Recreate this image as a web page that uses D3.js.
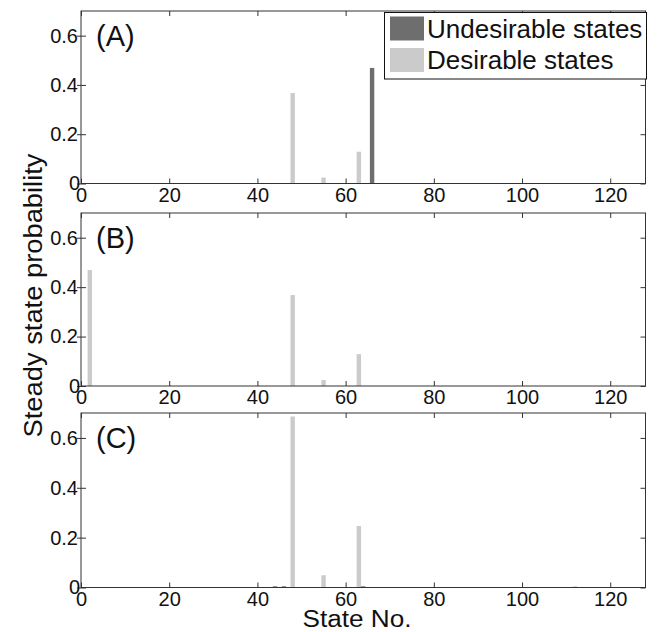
<!DOCTYPE html>
<html>
<head>
<meta charset="utf-8">
<script src="https://cdn.jsdelivr.net/npm/d3@7"></script>
<style>
  body { margin: 0; background: #fff; }
  svg text { font-family: "Liberation Sans", Arial, Helvetica, sans-serif; fill: #111; }
</style>
</head>
<body>
<svg id="chart" width="657" height="632"></svg>
<script>
// steady state probabilities, only the non-zero states are listed
var panelNames = ['(A)', '(B)', '(C)'];

var desStatesA = [48, 55, 63];
var desValsA   = [0.367, 0.024, 0.129];
var undStatesA = [66];
var undValsA   = [0.469];

var desStatesB = [2, 48, 55, 63];
var desValsB   = [0.469, 0.368, 0.024, 0.129];
var undStatesB = [];
var undValsB   = [];

var desStatesC = [48, 55, 63, 112];
var desValsC   = [0.686, 0.049, 0.247, 0.004];
var undStatesC = [44, 46, 64];
var undValsC   = [0.004, 0.004, 0.004];

var xTicks = [0, 20, 40, 60, 80, 100, 120];
var yTicks = [0, 0.2, 0.4, 0.6];
var legendLabels = ['Undesirable states', 'Desirable states'];

var darkCol = '#6e6e6e';
var lightCol = '#cbcbcb';
var axisCol = '#333';

var svg = d3.select('#chart');

// panel boxes (top, bottom) in px
var boxes = [[11, 183.5], [213, 386], [413, 587.5]];
var left = 81, right = 645.5;

var x = d3.scaleLinear().domain([0, 128]).range([left, right]);
var barW = x(1) - x(0);

var zip = function(s, v){
  return s.map(function(d, i){ return {state: d, p: v[i]}; });
};

var panels = [
  {name: panelNames[0], des: zip(desStatesA, desValsA), und: zip(undStatesA, undValsA)},
  {name: panelNames[1], des: zip(desStatesB, desValsB), und: zip(undStatesB, undValsB)},
  {name: panelNames[2], des: zip(desStatesC, desValsC), und: zip(undStatesC, undValsC)}
];

panels.forEach(function(pn, i){
  var top = boxes[i][0], bot = boxes[i][1];
  var y = d3.scaleLinear().domain([0, 0.7]).range([bot, top]);
  var g = svg.append('g');

  //bars
  var drawBars = function(list, col){
    g.selectAll(null)
      .data(list)
      .enter()
      .append('rect')
        .attr('x', function(d){ return x(d.state) - barW / 2; })
        .attr('width', barW)
        .attr('y', function(d){ return Math.min(y(d.p), bot - 1.2); })
        .attr('height', function(d){ return Math.max(bot - y(d.p), 1.2); })
        .attr('fill', col);
  };
  drawBars(pn.des, lightCol);
  drawBars(pn.und, darkCol);

  //frame
  g.append('rect')
    .attr('x', left).attr('y', top)
    .attr('width', right - left).attr('height', bot - top)
    .attr('fill', 'none').attr('stroke', axisCol).attr('stroke-width', 1);

  //axes
  var bottomAx = g.append('g')
    .attr('transform', 'translate(0,' + bot + ')')
    .call(d3.axisBottom(x).tickValues(xTicks).tickSizeInner(-5).tickSizeOuter(0).tickPadding(4)
      .tickFormat(d3.format('d')));
  var topAx = g.append('g')
    .attr('transform', 'translate(0,' + top + ')')
    .call(d3.axisTop(x).tickValues(xTicks).tickSizeInner(-5).tickSizeOuter(0).tickFormat(''));
  var leftAx = g.append('g')
    .attr('transform', 'translate(' + left + ',0)')
    .call(d3.axisLeft(y).tickValues(yTicks).tickSizeInner(-5).tickSizeOuter(0).tickPadding(3)
      .tickFormat(function(d){ return d === 0 ? '0' : d3.format('.1f')(d); }));
  var rightAx = g.append('g')
    .attr('transform', 'translate(' + right + ',0)')
    .call(d3.axisRight(y).tickValues(yTicks).tickSizeInner(-5).tickSizeOuter(0).tickFormat(''));

  leftAx.selectAll('.tick line').attr('x1', -4);
  leftAx.selectAll('.tick text').filter(function(d){ return d === 0; }).attr('x', -1);

  [bottomAx, topAx, leftAx, rightAx].forEach(function(a){
    a.select('.domain').remove();
    a.selectAll('.tick line').attr('stroke', axisCol);
    a.selectAll('.tick text').style('font-size', '20px').attr('fill', '#111');
  });

  //panel letter
  g.append('text')
    .attr('x', 96).attr('y', top + 34.5)
    .style('font-size', '29px')
    .text(pn.name);
});

//legend (panel A)
var lg = svg.append('g');
lg.append('rect')
  .attr('x', 384.5).attr('y', 12.5).attr('width', 262).attr('height', 66.5)
  .attr('fill', '#fff').attr('stroke', '#111').attr('stroke-width', 1);
[darkCol, lightCol].forEach(function(c, i){
  lg.append('rect')
    .attr('x', 390).attr('y', 16.5 + i * 31.5).attr('width', 34).attr('height', 24)
    .attr('fill', c);
  lg.append('text')
    .attr('x', 427).attr('y', 37.5 + i * 31)
    .style('font-size', '26px')
    .text(legendLabels[i]);
});

//axis titles
svg.append('text')
  .attr('transform', 'translate(42,295.5) rotate(-90)')
  .attr('text-anchor', 'middle')
  .attr('textLength', 284).attr('lengthAdjust', 'spacingAndGlyphs')
  .style('font-size', '25.5px')
  .text('Steady state probability');

svg.append('text')
  .attr('x', 357).attr('y', 627)
  .attr('text-anchor', 'middle')
  .attr('textLength', 109).attr('lengthAdjust', 'spacingAndGlyphs')
  .style('font-size', '23px')
  .text('State No.');
</script>
</body>
</html>
